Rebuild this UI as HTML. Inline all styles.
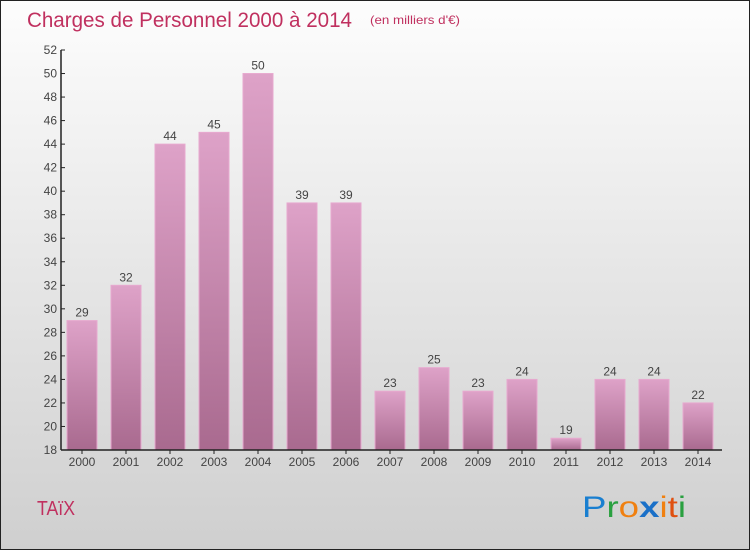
<!DOCTYPE html>
<html><head><meta charset="utf-8"><style>
html,body{margin:0;padding:0}
body{width:750px;height:550px;overflow:hidden;font-family:"Liberation Sans",sans-serif}
</style></head><body>
<svg id="chart" width="750" height="550" xmlns="http://www.w3.org/2000/svg">
<defs>
<linearGradient id="bg" x1="0" y1="0" x2="0" y2="1"><stop offset="0" stop-color="#fdfdfd"/><stop offset="1" stop-color="#cfcfcf"/></linearGradient>
<linearGradient id="bar" x1="0" y1="0" x2="0" y2="1"><stop offset="0" stop-color="#dea2c8"/><stop offset="1" stop-color="#a96a8f"/></linearGradient>
</defs>
<rect x="0.5" y="0.5" width="749" height="549" fill="url(#bg)" stroke="#222"/>
<text x="27" y="27" font-size="21" fill="#c0305f" textLength="325" lengthAdjust="spacingAndGlyphs">Charges de Personnel 2000 à 2014</text>
<text x="370" y="24" font-size="12" fill="#c0305f" textLength="90" lengthAdjust="spacingAndGlyphs">(en milliers d'€)</text>
<text x="37" y="515" font-size="20" fill="#c0305f" textLength="38" lengthAdjust="spacingAndGlyphs">TAïX</text>
<g font-size="30" font-family="'Liberation Sans',sans-serif">
<text x="582" y="517" textLength="104" lengthAdjust="spacingAndGlyphs"><tspan fill="#1a7fd0">P</tspan><tspan fill="#2aa040">r</tspan><tspan fill="#f08010">o</tspan><tspan fill="#1a70c8" font-weight="bold">x</tspan><tspan fill="#f08010">i</tspan><tspan fill="#e05010">t</tspan><tspan fill="#2aa040">i</tspan></text>
</g>
<g id="plot"></g>
</svg>
<script>
const years=["2000","2001","2002","2003","2004","2005","2006","2007","2008","2009","2010","2011","2012","2013","2014"];
const values=[29,32,44,45,50,39,39,23,25,23,24,19,24,24,22];
const yTicks=[18,20,22,24,26,28,30,32,34,36,38,40,42,44,46,48,50,52];
const NS="http://www.w3.org/2000/svg";
const g=document.getElementById('plot');
const x0=61,xEnd=722,yTop=50,yBot=450,yMin=18,yMax=52;
const y=v=>yBot-(v-yMin)/(yMax-yMin)*(yBot-yTop);
const xc=i=>82+i*44;
function mk(t,a){const e=document.createElementNS(NS,t);for(const k in a)e.setAttribute(k,a[k]);g.appendChild(e);return e;}
values.forEach((v,i)=>{
 const r=mk('rect',{x:xc(i)-15,y:y(v),width:30,height:yBot-y(v),fill:'url(#bar)',stroke:'#e7a9cf','stroke-width':1});
 
 
 const t=mk('text',{x:xc(i),y:y(v)-4,'text-anchor':'middle','font-size':12,fill:'#444'});
 t.textContent=v;
 
 
 const xl=mk('text',{x:xc(i),y:466,'text-anchor':'middle','font-size':12,fill:'#444'});
 xl.textContent=years[i];
 
 
 const tk=mk('line',{x1:xc(i),x2:xc(i),y1:yBot,y2:yBot+4,stroke:'#222'});
 
 
});
yTicks.forEach(v=>{
 const l=mk('line',{x1:x0,x2:x0+4,y1:y(v),y2:y(v),stroke:'#222'});
 
 
 const t=mk('text',{x:x0-4,y:y(v)+4,'text-anchor':'end','font-size':12,fill:'#444'});
 t.textContent=v;
 
 
});
const ya=mk('line',{x1:x0,x2:x0,y1:yTop,y2:yBot,stroke:'#222','stroke-width':1.5});


const xa=mk('line',{x1:x0,x2:xEnd,y1:yBot,y2:yBot,stroke:'#222','stroke-width':1.5});


</script>
</body></html>
